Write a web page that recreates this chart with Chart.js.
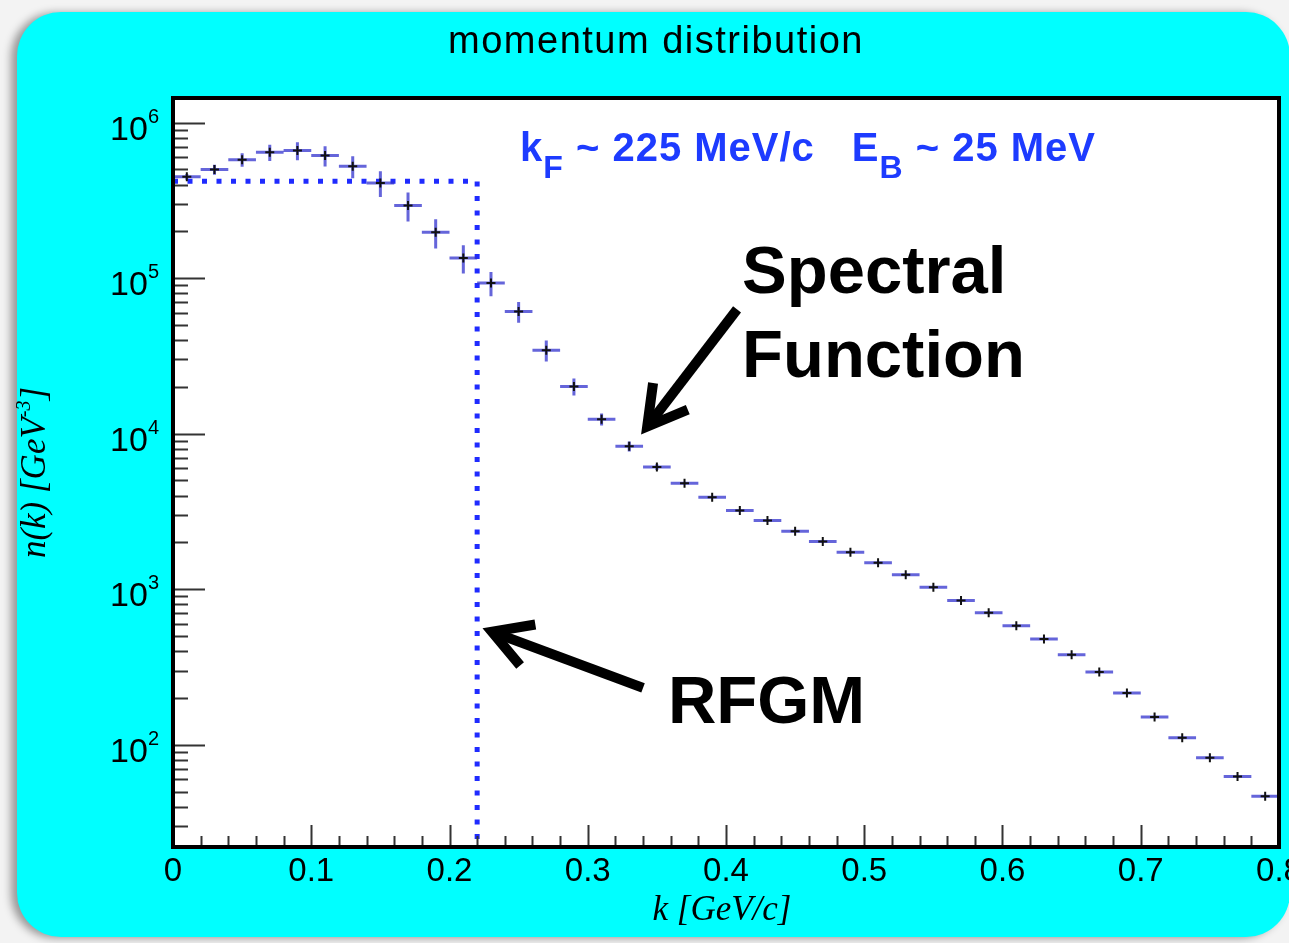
<!DOCTYPE html>
<html>
<head>
<meta charset="utf-8">
<title>momentum distribution</title>
<script src="https://cdn.jsdelivr.net/npm/chart.js@4.4.1/dist/chart.umd.min.js"></script>
<style>
  html, body { margin: 0; padding: 0; background: #f3f3f3; }
  #wrap { position: relative; width: 1289px; height: 943px; overflow: hidden; }
  /* cyan canvas pad behind the frame */
  #pad { position: absolute; left: 17px; top: 12px; width: 1273px; height: 925px;
         background: #00ffff; border-radius: 44px; box-shadow: -6px 1px 9px rgba(0,0,0,0.38); }
  #myChart { position: absolute; left: 0; top: 0; }
</style>
</head>
<body>
<div id="wrap">
  <div id="pad"></div>
  <canvas id="myChart" width="1289" height="943"></canvas>
</div>
<script>
'use strict';

// bin centres of the k histogram [GeV/c]
var kBins = [0.01, 0.03, 0.05, 0.07, 0.09, 0.11, 0.13, 0.15, 0.17, 0.19,
             0.21, 0.23, 0.25, 0.27, 0.29, 0.31, 0.33, 0.35, 0.37, 0.39,
             0.41, 0.43, 0.45, 0.47, 0.49, 0.51, 0.53, 0.55, 0.57, 0.59,
             0.61, 0.63, 0.65, 0.67, 0.69, 0.71, 0.73, 0.75, 0.77, 0.79];

// spectral function n(k)
var nk = [4.48e5, 4.99e5, 5.78e5, 6.44e5, 6.61e5, 6.14e5, 5.24e5, 4.09e5, 2.93e5, 1.97e5,
          1.35e5, 9.3e4, 6.1e4, 3.44e4, 2.01e4, 1.24e4, 8.3e3, 6.1e3, 4.8e3, 3.9e3,
          3.21e3, 2.77e3, 2.36e3, 2.03e3, 1.73e3, 1.48e3, 1.24e3, 1030, 847, 706,
          582, 478, 379, 294, 215, 151, 111, 82.4, 62.4, 46.7];

// statistical errors on n(k)
var nkErr = [1.9e4, 3.7e4, 5.7e4, 7.7e4, 8.8e4, 9.2e4, 8.5e4, 7.7e4, 6.2e4, 4.2e4,
             2.8e4, 1.65e4, 9.3e3, 5.3e3, 2.5e3, 1.1e3, 610, 270, 100, 80,
             60, 50, 45, 40, 35, 30, 25, 20, 17, 14,
             12, 10, 8, 6, 4, 3, 2, 1.6, 1.2, 1];

var binWidth = 0.02;

// relativistic Fermi gas: flat up to kF, then zero
var rfgmK = [0, 0.22, 0.22];
var rfgmN = [4.2e5, 4.2e5, 22];

// axis ranges and tick labels
var kMin = 0, kMax = 0.8;
var nMin = 22, nMax = 1.44e6;
var xTicks = [0, 0.1, 0.2, 0.3, 0.4, 0.5, 0.6, 0.7, 0.8];
var xTickLabels = ['0', '0.1', '0.2', '0.3', '0.4', '0.5', '0.6', '0.7', '0.8'];
var yDecades = [2, 3, 4, 5, 6];

var SANS = '"Liberation Sans", Arial, Helvetica, sans-serif';
var SERIF = '"Liberation Serif", "Times New Roman", serif';

// draws a list of [text, font, dy] pieces one after another
function drawPieces(c, x, y, pieces) {
  for (var i = 0; i < pieces.length; i++) {
    c.font = pieces[i][1];
    c.fillText(pieces[i][0], x, y + pieces[i][2]);
    x += c.measureText(pieces[i][0]).width;
  }
  return x;
}

function piecesWidth(c, pieces) {
  var w = 0;
  for (var i = 0; i < pieces.length; i++) {
    c.font = pieces[i][1];
    w += c.measureText(pieces[i][0]).width;
  }
  return w;
}

// thick arrow with an open head
function drawArrow(c, x1, y1, x2, y2) {
  var ang = Math.atan2(y1 - y2, x1 - x2);
  var len = 44, spread = 0.52;
  c.save();
  c.strokeStyle = '#000';
  c.lineWidth = 10;
  c.lineCap = 'butt';
  c.beginPath();
  c.moveTo(x1, y1);
  c.lineTo(x2 + 4 * Math.cos(ang), y2 + 4 * Math.sin(ang));
  c.stroke();
  c.lineJoin = 'miter';
  c.miterLimit = 10;
  c.beginPath();
  c.moveTo(x2 + len * Math.cos(ang - spread), y2 + len * Math.sin(ang - spread));
  c.lineTo(x2, y2);
  c.lineTo(x2 + len * Math.cos(ang + spread), y2 + len * Math.sin(ang + spread));
  c.stroke();
  c.restore();
}

// ROOT-like frame, ticks, labels and annotations
var rootStyle = {
  id: 'rootStyle',
  beforeDraw: function(chart) {
    var a = chart.chartArea, c = chart.ctx;
    c.save();
    c.fillStyle = '#fff';
    c.fillRect(a.left, a.top, a.right - a.left, a.bottom - a.top);
    c.restore();
  },
  beforeDatasetDraw: function(chart, args) {
    if (args.index !== 0) return;
    var c = chart.ctx, xs = chart.scales.x, ys = chart.scales.y;
    c.save();
    c.strokeStyle = 'rgba(50,50,205,0.75)';
    c.lineWidth = 3;
    c.beginPath();
    for (var i = 0; i < kBins.length; i++) {
      var px = xs.getPixelForValue(kBins[i]);
      var py = ys.getPixelForValue(nk[i]);
      c.moveTo(xs.getPixelForValue(kBins[i] - binWidth / 2), py);
      c.lineTo(xs.getPixelForValue(kBins[i] + binWidth / 2), py);
      c.moveTo(px, ys.getPixelForValue(nk[i] + nkErr[i]));
      c.lineTo(px, ys.getPixelForValue(nk[i] - nkErr[i]));
    }
    c.stroke();
    c.restore();
  },
  afterDraw: function(chart) {
    var c = chart.ctx, a = chart.chartArea;
    var xs = chart.scales.x, ys = chart.scales.y;
    var i, m, v, p;
    c.save();

    // y ticks (log), drawn inward from the left edge
    c.strokeStyle = '#333';
    c.lineWidth = 2;
    c.beginPath();
    for (i = 1; i <= 6; i++) {
      for (m = 1; m <= 9; m++) {
        v = m * Math.pow(10, i);
        if (v < nMin || v > nMax) continue;
        p = Math.round(ys.getPixelForValue(v)) + 0.5;
        c.moveTo(a.left, p);
        c.lineTo(a.left + (m === 1 ? 32 : 15), p);
      }
    }
    // x ticks, drawn upward from the bottom edge
    for (i = 0; i <= 40; i++) {
      v = i * 0.02;
      p = Math.round(xs.getPixelForValue(v)) + 0.5;
      c.moveTo(p, a.bottom);
      c.lineTo(p, a.bottom - (i % 5 === 0 ? 22 : 11));
    }
    c.stroke();

    // frame
    c.strokeStyle = '#000';
    c.lineWidth = 4;
    c.strokeRect(a.left, a.top, a.right - a.left, a.bottom - a.top);

    // tick labels
    c.fillStyle = '#000';
    c.textBaseline = 'alphabetic';
    c.textAlign = 'center';
    c.font = '33px ' + SANS;
    for (i = 0; i < xTicks.length; i++) {
      c.fillText(xTickLabels[i], xs.getPixelForValue(xTicks[i]), a.bottom + 34);
    }
    c.textAlign = 'left';
    for (i = 0; i < yDecades.length; i++) {
      p = ys.getPixelForValue(Math.pow(10, yDecades[i]));
      var lab = [['10', '34px ' + SANS, 17], [String(yDecades[i]), '20px ' + SANS, 0]];
      drawPieces(c, a.left - 14 - piecesWidth(c, lab), p, lab);
    }

    // axis titles
    c.font = 'italic 35px ' + SERIF;
    c.textAlign = 'center';
    c.fillText('k [GeV/c]', (a.left + a.right) / 2 - 4, 920);

    var ytitle = [['n(k) [GeV', 'italic 35px ' + SERIF, 0], ['-3', 'italic 20px ' + SERIF, -15], [']', 'italic 35px ' + SERIF, 0]];
    c.save();
    c.translate(45, (a.top + a.bottom) / 2);
    c.rotate(-Math.PI / 2);
    c.textAlign = 'left';
    drawPieces(c, -piecesWidth(c, ytitle) / 2, 0, ytitle);
    c.restore();

    // histogram title
    c.font = '38px ' + SANS;
    c.letterSpacing = '1.5px';
    c.textAlign = 'center';
    c.fillText('momentum distribution', 656, 53);

    // model parameters
    c.textAlign = 'left';
    c.letterSpacing = '1px';
    c.fillStyle = '#1d3bff';
    var big = 'bold 40px ' + SANS, sub = 'bold 32px ' + SANS;
    drawPieces(c, xs.getPixelForValue(0.251), ys.getPixelForValue(5.64e5),
      [['k', big, 0], ['F', sub, 17], [' ~ 225 MeV/c', big, 0]]);
    drawPieces(c, xs.getPixelForValue(0.491), ys.getPixelForValue(5.64e5),
      [['E', big, 0], ['B', sub, 17], [' ~ 25 MeV', big, 0]]);
    c.letterSpacing = '0px';

    // model labels with arrows
    c.fillStyle = '#000';
    c.font = 'bold 67px ' + SANS;
    c.fillText('Spectral', xs.getPixelForValue(0.4116), ys.getPixelForValue(7.98e4));
    c.fillText('Function', xs.getPixelForValue(0.4116), ys.getPixelForValue(2.30e4));
    c.fillText('RFGM', xs.getPixelForValue(0.358), ys.getPixelForValue(138));
    drawArrow(c, xs.getPixelForValue(0.408), ys.getPixelForValue(6.3e4),
                 xs.getPixelForValue(0.343), ys.getPixelForValue(1.11e4));
    drawArrow(c, xs.getPixelForValue(0.340), ys.getPixelForValue(232),
                 xs.getPixelForValue(0.2307), ys.getPixelForValue(533));

    c.restore();
  }
};

var points = [];
for (var i = 0; i < kBins.length; i++) points.push({ x: kBins[i], y: nk[i] });
var rfgm = [];
for (var j = 0; j < rfgmK.length; j++) rfgm.push({ x: rfgmK[j], y: rfgmN[j] });

var ctx = document.getElementById('myChart').getContext('2d');
var chart = new Chart(ctx, {
  type: 'scatter',
  data: {
    datasets: [
      {
        label: 'Spectral Function',
        data: points,
        pointStyle: 'cross',
        pointRadius: 4.5,
        pointBorderColor: '#111',
        pointBorderWidth: 2,
        showLine: false,
        order: 1
      },
      {
        label: 'RFGM',
        data: rfgm,
        showLine: true,
        borderColor: '#1f2bff',
        borderWidth: 5,
        borderDash: [5, 9.5],
        pointRadius: 0,
        tension: 0,
        order: 2
      }
    ]
  },
  options: {
    responsive: false,
    animation: false,
    events: [],
    layout: { padding: { left: 173, top: 98, right: 10, bottom: 96 } },
    plugins: { legend: { display: false }, tooltip: { enabled: false } },
    scales: {
      x: { type: 'linear', min: kMin, max: kMax, display: false },
      y: { type: 'logarithmic', min: nMin, max: nMax, display: false }
    }
  },
  plugins: [rootStyle]
});
</script>
</body>
</html>
